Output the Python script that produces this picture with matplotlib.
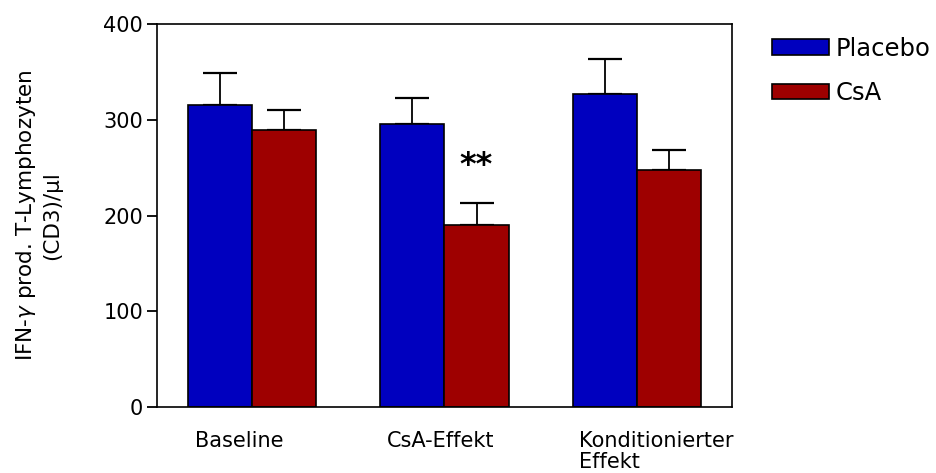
import numpy as np
import matplotlib.pyplot as plt

groups = ['Baseline', 'CsA-Effekt', 'Konditionierter\nEffekt']
placebo = [315.5, 295.5, 327]
placebo_err = [33, 27.5, 36.5]
csa = [289.5, 190.5, 248]
csa_err = [21, 23, 20.5]
series_names = ['Placebo', 'CsA']

blue = '#0000BF'
red = '#9E0000'

fig = plt.figure(figsize=(9.36, 4.73), dpi=100)
ax = fig.add_axes([0.1677, 0.139, 0.6143, 0.810])

x = np.arange(len(groups))
w = 1 / 3

ax.bar(x - w/2, placebo, w, color=blue, edgecolor='black', linewidth=1.2, label=series_names[0], zorder=2)
ax.bar(x + w/2, csa, w, color=red, edgecolor='black', linewidth=1.2, label=series_names[1], zorder=2)

# only upper error bars
ax.errorbar(x - w/2, placebo, yerr=[np.zeros(3), placebo_err], fmt='none',
            ecolor='black', elinewidth=1.3, capsize=12, capthick=1.6, zorder=1)
ax.errorbar(x + w/2, csa, yerr=[np.zeros(3), csa_err], fmt='none',
            ecolor='black', elinewidth=1.3, capsize=12, capthick=1.6, zorder=1)

ax.text(x[1] + w/2, 236, '**', ha='center', va='bottom', fontsize=23, fontweight='bold')

ax.set_xlim(-0.495, 2.495)
ax.set_ylim(0, 400)
ax.set_yticks([0, 100, 200, 300, 400])
ax.tick_params(axis='y', labelsize=15, length=7, width=1.3, pad=3)

ax.set_xticks(x - w + 0.035)
ax.set_xticklabels(groups, fontsize=15, ha='left', linespacing=1.05)
ax.tick_params(axis='x', length=0, pad=17)
for lbl in ax.get_xticklabels():
    lbl.set_verticalalignment('top')

for s in ax.spines.values():
    s.set_linewidth(1.2)

ax.set_ylabel('IFN-$\\gamma$ prod. T-Lymphozyten\n(CD3)/µl', fontsize=15.5, labelpad=30, linespacing=1.25)

ax.legend(loc='upper left', bbox_to_anchor=(1.052, 0.993), frameon=False, fontsize=17.5,
          handlelength=2.35, handleheight=0.6, handletextpad=0.3, labelspacing=0.85,
          borderaxespad=0)

fig.savefig('out.png', dpi=100)
